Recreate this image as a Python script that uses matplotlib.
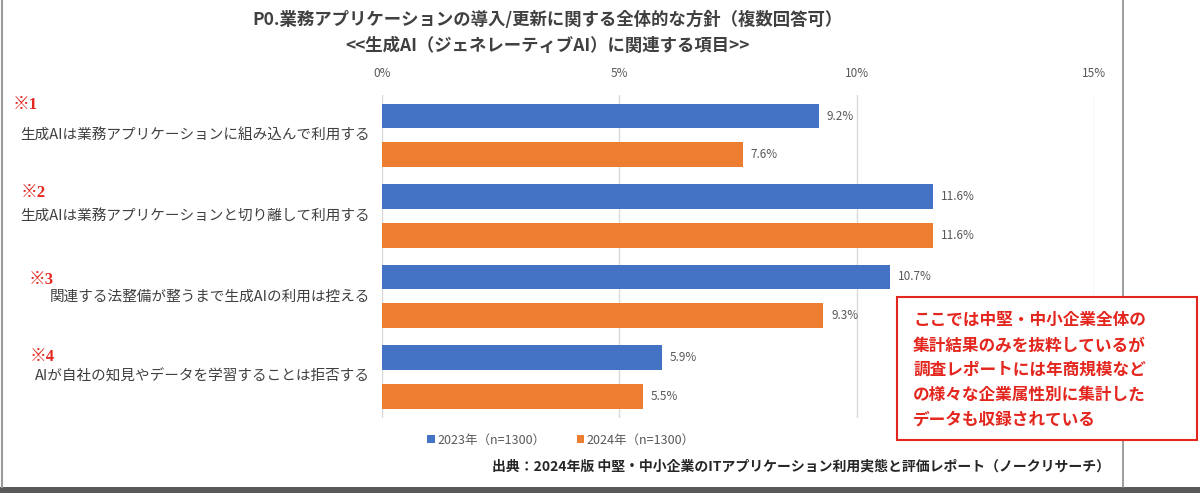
import matplotlib
matplotlib.use("Agg")
import matplotlib.pyplot as plt
import matplotlib.transforms as mtransforms
from matplotlib.patches import Rectangle
from matplotlib.lines import Line2D
import numpy as np

plt.rcParams['font.family'] = ['Noto Sans CJK JP', 'DejaVu Sans']

# ---- data ----
categories = [
    '生成AIは業務アプリケーションに組み込んで利用する',
    '生成AIは業務アプリケーションと切り離して利用する',
    '関連する法整備が整うまで生成AIの利用は控える',
    'AIが自社の知見やデータを学習することは拒否する',
]
notes = ['※1', '※2', '※3', '※4']
values_2023 = [9.2, 11.6, 10.7, 5.9]
values_2024 = [7.6, 11.6, 9.3, 5.5]
series_names = ['2023年（n=1300）', '2024年（n=1300）']
x_ticks = [0, 5, 10, 15]
x_ticklabels = ['0%', '5%', '10%', '15%']

title1 = 'P0.業務アプリケーションの導入/更新に関する全体的な方針（複数回答可）'
title2 = '<<生成AI（ジェネレーティブAI）に関連する項目>>'
source = '出典：2024年版 中堅・中小企業のITアプリケーション利用実態と評価レポート（ノークリサーチ）'
note_box = ('ここでは中堅・中小企業全体の\n集計結果のみを抜粋しているが\n'
            '調査レポートには年商規模など\nの様々な企業属性別に集計した\nデータも収録されている')

# ---- layout ----
W, H = 1200, 493
BLUE = '#4472C4'
ORANGE = '#ED7D31'
RED = '#E3261E'
GRAY = '#595959'
note_dx = [13, 21, 29, 30]        # pixel x of ※ marks
note_dy = [-0.38, -0.29, -0.21, -0.25]  # offset from group centre (data units)

fig = plt.figure(figsize=(W / 100, H / 100), dpi=100)
fig.patch.set_facecolor('white')

ax_l, ax_r, ax_t, ax_b = 382, 1094, 95, 418
ax = fig.add_axes([ax_l / W, 1 - ax_b / H, (ax_r - ax_l) / W, (ax_b - ax_t) / H])

y = np.arange(len(categories))
off = 0.242
bh = 0.31
b1 = ax.barh(y - off, values_2023, height=bh, color=BLUE, label=series_names[0], zorder=3)
b2 = ax.barh(y + off, values_2024, height=bh, color=ORANGE, label=series_names[1], zorder=3)

for yy, v in zip(y - off, values_2023):
    ax.text(v + 0.17, yy, f'{v}%', va='center', ha='left', fontsize=8.5, color=GRAY)
for yy, v in zip(y + off, values_2024):
    ax.text(v + 0.17, yy, f'{v}%', va='center', ha='left', fontsize=8.5, color=GRAY)

ax.set_xlim(0, 15)
ax.set_ylim(3.51, -0.503)
ax.set_xticks(x_ticks)
ax.set_xticklabels(x_ticklabels, fontsize=8.5, color=GRAY)
ax.xaxis.tick_top()
ax.tick_params(axis='x', length=0, pad=11)
ax.set_yticks([])
ax.grid(True, axis='x', color='#D9D9D9', linewidth=1, zorder=0)
for s in ax.spines.values():
    s.set_visible(False)

# category labels and notes
trans = mtransforms.blended_transform_factory(fig.transFigure, ax.transData)
for i, (cat, nt) in enumerate(zip(categories, notes)):
    ax.text(370 / W, i, cat, transform=trans, ha='right', va='center',
            fontsize=10.5, color='#404040')
    ax.text(note_dx[i] / W, i + note_dy[i], nt, transform=trans, ha='left', va='center',
            fontsize=12, color=RED, fontweight='bold',
            family=['Liberation Serif', 'Noto Sans CJK JP'])

# titles
fig.text(548 / W, 1 - 20 / H, title1, ha='center', va='center', fontsize=12.5,
         fontweight='bold', color='#404040')
fig.text(548 / W, 1 - 46 / H, title2, ha='center', va='center', fontsize=12.5,
         fontweight='bold', color='#404040')

# legend
fig.legend(handles=[b1, b2], loc='center', bbox_to_anchor=(561 / W, 1 - 440 / H),
           ncol=2, frameon=False, fontsize=9, handlelength=0.6, handleheight=0.6,
           columnspacing=2.5, handletextpad=0.2, labelcolor=GRAY)

# source
fig.text(1110 / W, 1 - 467 / H, source, ha='right', va='center', fontsize=10,
         fontweight='bold', color='#262626')

# frame decorations
fig.add_artist(Line2D([1.5 / W, 1.5 / W], [1 - 487 / H, 1], color='#9A9A9A', linewidth=1.5))
fig.add_artist(Line2D([1123 / W, 1123 / W], [1 - 487 / H, 1], color='#8C8C8C', linewidth=1.2))
fig.add_artist(Rectangle((0, 0), 1, 6 / H, transform=fig.transFigure,
                         facecolor='#5A5A5A', edgecolor='none'))

# red note box
fig.add_artist(Rectangle((897 / W, 1 - 440 / H), 300 / W, 143 / H, transform=fig.transFigure,
                         facecolor='white', edgecolor=RED, linewidth=1.5, zorder=5))
fig.text(913 / W, 1 - 311 / H, note_box, ha='left', va='top', fontsize=12,
         fontweight='bold', color=RED, linespacing=1.5, zorder=6)

fig.savefig('out.png', dpi=100, facecolor='white')
